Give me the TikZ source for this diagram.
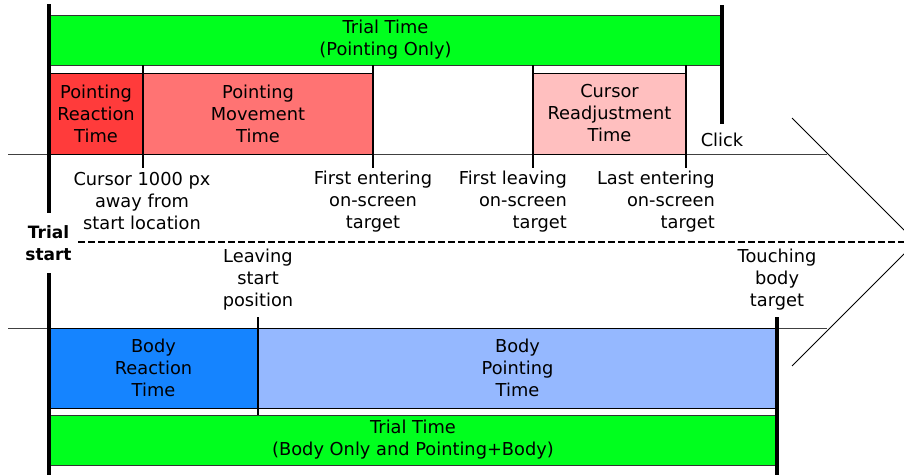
\documentclass[tikz,border=0pt]{standalone}
\usepackage{fontspec}
\setmainfont{DejaVu Sans}
\usepackage{tikz}

\definecolor{trialgreen}{HTML}{00FF1E}
\definecolor{reactred}{HTML}{FF3B3B}
\definecolor{movered}{HTML}{FF7373}
\definecolor{readjpink}{HTML}{FFBFBF}
\definecolor{reactblue}{HTML}{1584FF}
\definecolor{pointblue}{HTML}{95B8FF}

\tikzset{
  phase/.style={shape=rectangle, draw=black, line width=1pt, inner sep=0pt, align=center},
  trialbar/.style={phase, draw=black!80, fill=trialgreen, minimum height=50pt},
  lbl/.style={inner sep=0pt, align=center},
  tick/.style={line width=2pt},
  event/.style={line width=3.6pt},
  timeline/.style={draw=black!75, line width=1pt}
}

\begin{document}
\begin{tikzpicture}[x=1pt,y=-1pt,every node/.style={font=\fontsize{17.8}{22}\selectfont}]
\useasboundingbox (0,0) rectangle (904,474);
\clip (0,0) rectangle (904,474);

% time axes and arrow head
\draw[timeline] (8,154) -- (827,154);
\draw[timeline] (8,328) -- (827,328);
\draw[line width=1pt] (792,118) -- (916,242) -- (792,366);
\draw[line width=2pt, dash pattern=on 7pt off 3pt] (78,242) -- (916,242);

% pointing phases
\node[trialbar, minimum width=673pt](ttp) at (385.5,40) {Trial Time\\(Pointing Only)};
\node[phase, fill=reactred, minimum width=94pt, minimum height=81pt](prt) at (96,113.5) {Pointing\\Reaction\\Time};
\node[phase, fill=movered, minimum width=230pt, minimum height=81pt](pmt) at (258,113.5) {Pointing\\Movement\\Time};
\node[phase, fill=readjpink, minimum width=153pt, minimum height=81pt](crt) at (609.5,113.5) {Cursor\\Readjustment\\Time};

% body phases
\node[phase, fill=reactblue, minimum width=209pt, minimum height=80pt](brt) at (153.5,368) {Body\\Reaction\\Time};
\node[phase, fill=pointblue, minimum width=519pt, minimum height=80pt](bpt) at (517.5,368) {Body\\Pointing\\Time};
\node[trialbar, minimum width=728pt](ttb) at (413,440) {Trial Time\\(Body Only and Pointing+Body)};

% events
\foreach \x/\n in {143/a,373/b,533/c,686/d} {
  \coordinate (top\n) at (\x,65);
  \coordinate (bot\n) at (\x,168);
  \draw[tick] (top\n) -- (bot\n);
}
\coordinate (leaveA) at (258,317);
\coordinate (leaveB) at (258,415);
\draw[tick] (leaveA) -- (leaveB);

\coordinate (startA) at (49,4);
\coordinate (startB) at (49,213);
\coordinate (startC) at (49,273);
\coordinate (startD) at (49,476);
\draw[line width=4pt] (startA) -- (startB);
\draw[line width=4pt] (startC) -- (startD);

\coordinate (clickA) at (722,5);
\coordinate (clickB) at (722,124);
\draw[event] (clickA) -- (clickB);

\coordinate (touchA) at (777,317);
\coordinate (touchB) at (777,476);
\draw[event] (touchA) -- (touchB);

% labels
\node[lbl, font=\fontsize{17}{22}\selectfont\bfseries](start) at (48.5,243) {Trial\\start};
\node[lbl](click) at (722,140) {Click};
\node[lbl](cursor) at (142,201.5) {Cursor 1000 px\\away from\\start location};
\node[lbl](fenter) at (373,201.5) {First entering\\on-screen\\target};
\node[lbl, align=right, anchor=east](fleave) at (567,201.5) {First leaving\\on-screen\\target};
\node[lbl, align=right, anchor=east](lenter) at (715,201.5) {Last entering\\on-screen\\target};
\node[lbl](leave) at (258,279.5) {Leaving\\start\\position};
\node[lbl](touch) at (777,279.5) {Touching\\body\\target};
\end{tikzpicture}
\end{document}
